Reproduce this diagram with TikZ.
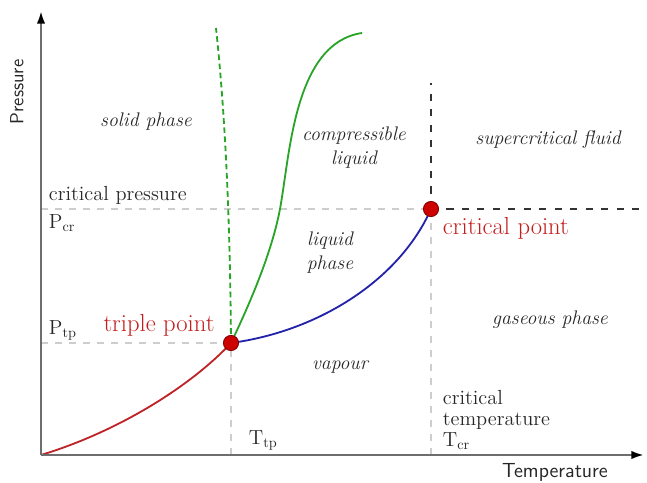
\documentclass[tikz,border=0pt]{standalone}
\usepackage{tikz}
\usetikzlibrary{arrows.meta, positioning}

\definecolor{axisgray}{RGB}{110,110,110}
\definecolor{guidegray}{RGB}{205,205,205}
\definecolor{curvered}{RGB}{190,35,40}
\definecolor{curveblue}{RGB}{35,35,170}
\definecolor{curvegreen}{RGB}{40,165,40}
\definecolor{dotred}{RGB}{205,0,0}
\definecolor{dotedge}{RGB}{130,0,0}
\definecolor{labelred}{RGB}{195,30,30}

\begin{document}
\begin{tikzpicture}[
	axis/.style={axisgray, line width=1.6pt, -{Latex[length=9pt, width=6pt, color=black]}},
	guide/.style={guidegray, line width=0.8pt, dash pattern=on 5pt off 5pt},
	darkguide/.style={black!80, line width=0.9pt, dash pattern=on 5pt off 6pt},
	curve/.style={line width=1.3pt},
	phasedot/.style={circle, fill=dotred, draw=dotedge, line width=0.6pt, inner sep=0pt, minimum size=0.38cm},
	phaselabel/.style={font=\fontsize{14}{17}\selectfont\itshape, text=black!85},
	axislabel/.style={font=\fontsize{14.5}{17}\selectfont\sffamily, text=black!85},
	smalllabel/.style={font=\fontsize{14.5}{15}\selectfont, text=black!85, anchor=west},
	pointlabel/.style={font=\fontsize{17.5}{20}\selectfont, text=labelred}
]
	\useasboundingbox (0, 0) rectangle (16.175, 12.075);
	% Points of the diagram:
	\coordinate (O) at (1.025, 0.7);
	\coordinate (Ptop) at (1.025, 11.8);
	\coordinate (Tend) at (16.1, 0.7);
	\coordinate (TP) at (5.775, 3.5);
	\coordinate (CP) at (10.775, 6.85);
	\coordinate (Pcr) at (1.025, 6.85);
	\coordinate (Ptp) at (1.025, 3.5);
	\coordinate (Ttp) at (5.775, 0.7);
	\coordinate (Tcr) at (10.775, 0.7);
	\coordinate (CPtop) at (10.775, 10.0);
	\coordinate (CPright) at (16.175, 6.85);
	\coordinate (Mtop) at (5.4, 11.375);
	\coordinate (Ltop) at (9.05, 11.25);

	% Guide lines:
	\draw[guide] (Pcr) -- (CP);
	\draw[guide] (Ptp) -- (TP);
	\draw[guide] (Ttp) -- (TP);
	\draw[guide] (Tcr) -- (CP);
	\draw[darkguide] (CP) -- (CPtop);
	\draw[darkguide] (CP) -- (CPright);

	% Phase boundaries:
	\draw[curve, curvered] (O) .. controls (3.0, 1.3) and (4.8, 2.45) .. (TP);
	\draw[curve, curveblue] (TP) .. controls (8.0, 3.8) and (10.0, 5.1) .. (CP);
	\draw[curve, curvegreen] (TP) .. controls (6.3, 4.6) and (6.8, 5.8) .. (7.0, 6.85)
		.. controls (7.25, 8.2) and (7.35, 11.0) .. (Ltop);
	\draw[curve, curvegreen, dash pattern=on 4pt off 2.5pt] (TP) .. controls (5.75, 7.0) and (5.6, 9.5) .. (Mtop);

	% Axes:
	\draw[axis] (O) -- (Ptop);
	\draw[axis] (O) -- (Tend);
	\node[axislabel, rotate=90, font=\fontsize{13.5}{15}\selectfont\sffamily] (pressure) at (0.425, 9.775) {Pressure};
	\node[axislabel] (temperature) at (13.875, 0.275) {Temperature};

	% Special points:
	\node[phasedot] (triple) at (TP) {};
	\node[phasedot] (critical) at (CP) {};
	\node[pointlabel] (triplelabel) at (3.975, 3.95) {triple point};
	\node[pointlabel, anchor=west] (criticallabel) at (10.95, 6.375) {critical point};

	% Phase names:
	\node[phaselabel] (solid) at (3.65, 9.025) {solid phase};
	\node[phaselabel, align=center] (compressible) at (8.85, 8.39) {compressible\\liquid};
	\node[phaselabel, align=center] (liquid) at (8.25, 5.75) {liquid\\phase};
	\node[phaselabel] (vapour) at (8.5, 2.9) {vapour};
	\node[phaselabel] (supercritical) at (13.7, 8.575) {supercritical fluid};
	\node[phaselabel] (gaseous) at (13.75, 4.075) {gaseous phase};

	% Axis values:
	\node[smalllabel] (critpressure) at (1.1, 7.2) {critical pressure};
	\node[smalllabel] (pcr) at (1.1, 6.5) {P\textsubscript{cr}};
	\node[smalllabel] (ptp) at (1.1, 3.825) {P\textsubscript{tp}};
	\node[smalllabel] (ttp) at (6.1, 1.075) {T\textsubscript{tp}};
	\node[smalllabel, align=left] (crittemp) at (10.95, 1.575) {critical\\temperature\\T\textsubscript{cr}};
\end{tikzpicture}
\end{document}
